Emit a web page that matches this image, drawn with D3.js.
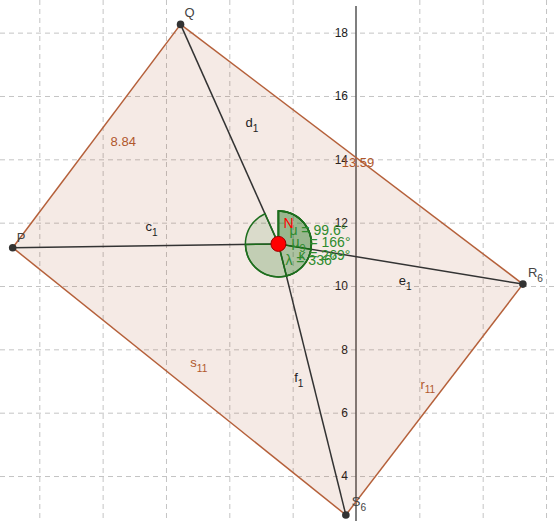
<!DOCTYPE html>
<html>
<head>
<meta charset="utf-8">
<script src="https://cdn.jsdelivr.net/npm/d3@7"></script>
<style>
  body { margin: 0; background: #fff; }
  text { font-family: "Liberation Sans", Arial, sans-serif; }
</style>
</head>
<body>
<div id="chart"></div>
<script>
// Points of the figure (world coordinates)
var pointNames = ["P", "Q", "R", "S"];
var pointSubs = ["", "", "6", "6"];
var pointX = [-10.84, -5.54, 5.27, -0.32];
var pointY = [11.21, 18.26, 10.06, 2.77];

// inner point N
var centerName = "N";
var centerX = -2.45;
var centerY = 11.33;

// polygon edges (from, to) and their labels
var edgeFrom = [0, 1, 2, 3];
var edgeTo = [1, 2, 3, 0];
var edgeNames = ["8.84", "13.59", "r", "s"];
var edgeSubs = ["", "", "11", "11"];

// segments from N to the corners
var segTo = [0, 1, 2, 3];
var segNames = ["c", "d", "e", "f"];
var segSubs = ["1", "1", "1", "1"];

// angles measured clockwise from the vertical
var angleNames = ["μ", "μ", "κ", "λ"];
var angleSubs = ["", "9", "", ""];
var angleValues = [99.6, 166, 269, 336];
var angleText = ["99.6°", "166°", "269°", "336°"];

// grid and axis ticks
var xGrid = [-10, -8, -6, -4, -2, 0, 2, 4, 6];
var yGrid = [4, 6, 8, 10, 12, 14, 16, 18];
var yTicks = [4, 6, 8, 10, 12, 14, 16, 18];

var svgWidth = 557;
var svgHeight = 521;

var svg = d3.select("#chart")
  .append("svg")
  .attr("width", svgWidth)
  .attr("height", svgHeight);

// scales: 31.67 px per unit, y axis at x = 356
var x = d3.scaleLinear()
  .domain([-356 / 31.67, (svgWidth - 356) / 31.67])
  .range([0, svgWidth]);

var y = d3.scaleLinear()
  .domain([10 - (svgHeight - 286) / 31.67, 10 + 286 / 31.67])
  .range([svgHeight, 0]);

// grid
var grid = svg.append("g")
  .attr("stroke", "#c4c4c4")
  .attr("stroke-width", 1)
  .attr("stroke-dasharray", "5,4");

grid.selectAll(".gx")
  .data(xGrid.filter(d => d !== 0))
  .enter()
  .append("line")
  .attr("x1", d => x(d) + 0.5)
  .attr("x2", d => x(d) + 0.5)
  .attr("y1", 0)
  .attr("y2", svgHeight);

grid.selectAll(".gy")
  .data(yGrid)
  .enter()
  .append("line")
  .attr("x1", 0)
  .attr("x2", svgWidth)
  .attr("y1", d => y(d) + 0.5)
  .attr("y2", d => y(d) + 0.5);

// y axis
svg.append("line")
  .attr("x1", x(0))
  .attr("x2", x(0))
  .attr("y1", 6)
  .attr("y2", svgHeight)
  .attr("stroke", "#555")
  .attr("stroke-width", 1.5);

var leftAxis = d3.axisLeft(y)
  .tickValues(yTicks)
  .tickSize(0)
  .tickPadding(8);

var yAxis = svg.append("g")
  .attr("transform", `translate(${x(0)}, 0)`)
  .call(leftAxis);
yAxis.select(".domain").remove();
yAxis.selectAll("text")
  .attr("font-size", "12px")
  .attr("font-family", "Liberation Sans, Arial, sans-serif")
  .attr("fill", "#222");

// polygon
var corners = pointX.map((d, i) => [x(d), y(pointY[i])]);
svg.append("polygon")
  .attr("points", corners.map(c => c.join(",")).join(" "))
  .attr("fill", "rgba(153,51,0,0.1)")
  .attr("stroke", "none");

svg.selectAll(".edge")
  .data(edgeFrom)
  .enter()
  .append("line")
  .attr("x1", (d, i) => corners[d][0])
  .attr("y1", (d, i) => corners[d][1])
  .attr("x2", (d, i) => corners[edgeTo[i]][0])
  .attr("y2", (d, i) => corners[edgeTo[i]][1])
  .attr("stroke", "#b5603a")
  .attr("stroke-width", 1.5);

// segments from N
var cx = x(centerX), cy = y(centerY);
svg.selectAll(".seg")
  .data(segTo)
  .enter()
  .append("line")
  .attr("x1", cx)
  .attr("y1", cy)
  .attr("x2", d => corners[d][0])
  .attr("y2", d => corners[d][1])
  .attr("stroke", "#333")
  .attr("stroke-width", 1.5);

// angle sectors
var arc = d3.arc()
  .innerRadius(0)
  .outerRadius(33)
  .startAngle(0)
  .endAngle(d => d * Math.PI / 180);

svg.append("g")
  .attr("transform", `translate(${cx}, ${cy})`)
  .selectAll("path")
  .data(angleValues)
  .enter()
  .append("path")
  .attr("d", arc)
  .attr("fill", "rgba(0,100,0,0.11)")
  .attr("stroke", "#1e6e1e")
  .attr("stroke-width", 1.5);

// helper for labels with subscripts
function label(g, px, py, name, sub, color, size) {
  var t = g.append("text")
    .attr("x", px)
    .attr("y", py)
    .attr("fill", color)
    .attr("font-size", size + "px");
  t.append("tspan").text(name);
  if (sub) {
    t.append("tspan")
      .attr("dy", size * 0.38)
      .attr("font-size", (size * 0.78) + "px")
      .text(sub);
  }
  return t;
}

var labels = svg.append("g");

// edge labels, offsets from edge midpoints
var edgeOffsets = [[14, 10], [-10, 13], [-14, -11], [11, -14]];
edgeFrom.forEach(function(d, i) {
  var a = corners[d], b = corners[edgeTo[i]];
  label(labels, (a[0] + b[0]) / 2 + edgeOffsets[i][0], (a[1] + b[1]) / 2 + edgeOffsets[i][1],
    edgeNames[i], edgeSubs[i], "#b0582c", 13);
});

// segment labels, offsets from segment midpoints
var segOffsets = [[0, -15], [16, -7], [-2, 21], [-18, 3]];
segTo.forEach(function(d, i) {
  var b = corners[d];
  label(labels, (cx + b[0]) / 2 + segOffsets[i][0], (cy + b[1]) / 2 + segOffsets[i][1],
    segNames[i], segSubs[i], "#222", 13);
});

// point dots and labels
var pointOffsets = [[4, -6], [4, -7], [5, -7], [6, -9]];
svg.selectAll(".pt")
  .data(corners)
  .enter()
  .append("circle")
  .attr("cx", d => d[0])
  .attr("cy", d => d[1])
  .attr("r", 3.8)
  .attr("fill", "#333");

corners.forEach(function(c, i) {
  label(labels, c[0] + pointOffsets[i][0], c[1] + pointOffsets[i][1],
    pointNames[i], pointSubs[i], "#444", 13);
});

// angle labels, offsets from N
var angleOffsets = [[11, -9], [13, 3], [20, 16], [7, 21]];
angleValues.forEach(function(v, i) {
  var t = label(labels, cx + angleOffsets[i][0], cy + angleOffsets[i][1],
    angleNames[i], angleSubs[i], "#2e8b2e", 14);
  t.append("tspan")
    .attr("dy", angleSubs[i] ? -14 * 0.38 : 0)
    .text(" = " + angleText[i]);
});

// N
svg.append("circle")
  .attr("cx", cx)
  .attr("cy", cy)
  .attr("r", 7.5)
  .attr("fill", "#ff0000")
  .attr("stroke", "#990000")
  .attr("stroke-width", 1);

label(svg, cx + 5, cy - 16, centerName, "", "#ff0000", 14);
</script>
</body>
</html>
